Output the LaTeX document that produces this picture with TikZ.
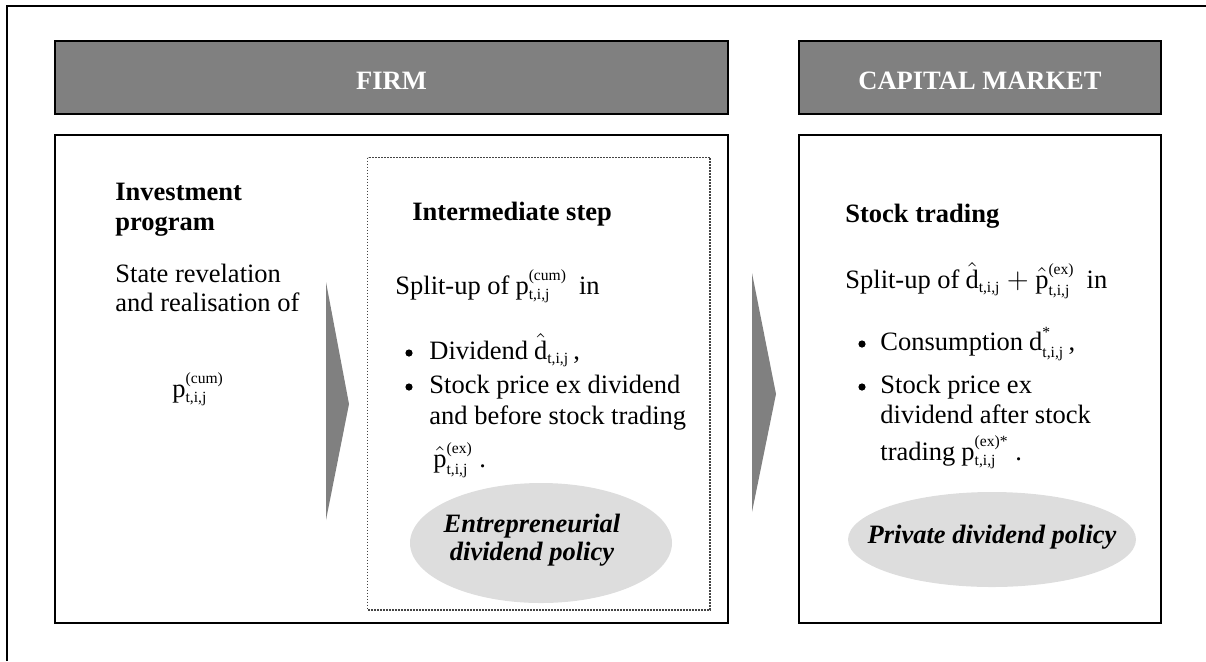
\documentclass[tikz,border=0pt]{standalone}
\usepackage{fontspec}
\usepackage{amsmath}
\setmainfont{Liberation Serif}
\usetikzlibrary{shapes.geometric}
\DeclareMathSizes{13.25}{13.25}{7.8}{6}
\definecolor{hdrgray}{HTML}{808080}
\definecolor{ellgray}{HTML}{DDDDDD}
\definecolor{dotgray}{HTML}{444444}
\newcommand{\tv}[1]{\text{#1}}
\newcommand{\sub}{\tv{t,i,j}}
\begin{document}
\begin{tikzpicture}[x=0.5pt,y=-0.5pt,
  frame/.style={line width=1.3pt, draw=black},
  hdr/.style={frame, fill=hdrgray},
  hdrtxt/.style={anchor=base, inner sep=0pt, text=white, font=\fontsize{13.25}{14.5}\selectfont\bfseries},
  txt/.style={anchor=base west, inner sep=0pt, font=\fontsize{13.25}{14.5}\selectfont},
  bold/.style={txt, font=\fontsize{13.25}{14.5}\selectfont\bfseries},
  elltxt/.style={anchor=base, inner sep=0pt, font=\fontsize{13.25}{14.5}\selectfont\bfseries\itshape},
  ell/.style={ellipse, fill=ellgray, draw=none, inner sep=0pt},
  dot/.style={circle, fill=black, draw=none, inner sep=0pt, minimum size=3.6pt},
  flowarrow/.style={fill=hdrgray, draw=none},
  dotbox/.style={draw=dotgray, line width=0.8pt, dash pattern=on 0.8pt off 0.7pt}
]
\useasboundingbox (0,0) rectangle (1206,661);
% outer frame (only top and left edges visible)
\draw[frame] (7,661) -- (7,6) -- (1206,6);
% headers
\draw[hdr] (55,41) rectangle (728,114);
\draw[hdr] (799,41) rectangle (1161,114);
\node[hdrtxt] (firm) at (391.5,89) {FIRM};
\node[hdrtxt] (cap) at (980,89) {CAPITAL MARKET};
% main boxes
\draw[frame] (55,135) rectangle (728,623);
\draw[frame] (799,135) rectangle (1161,623);
\draw[dotbox] (367.5,157.5) rectangle (710,610);
% flow arrows
\fill[flowarrow] (326,282) -- (349,404) -- (326,520) -- cycle;
\fill[flowarrow] (752,273) -- (776,394) -- (752,512) -- cycle;
% left column
\node[bold] (inv1) at (115,200) {Investment};
\node[bold] (inv2) at (115,230) {program};
\node[txt] (st1) at (115,282) {State revelation};
\node[txt] (st2) at (115,311) {and realisation of};
\node[txt] (pcum) at (172,397) {$\tv{p}^{\tv{(cum)}}_{\sub}$};
% intermediate step
\node[bold] (int) at (412,220) {Intermediate step};
\node[txt] (sp1) at (395,294) {Split-up of\hspace{3pt}$\tv{p}^{\tv{(cum)}}_{\sub}$\hspace{6pt}in};
\node[dot] (b1) at (409,353) {};
\node[txt] (dv) at (429,359) {Dividend\hspace{3pt}$\hat{\tv{d}}_{\sub}$\,,};
\node[dot] (b2) at (409,387) {};
\node[txt] (sp2) at (429,393) {Stock price ex dividend};
\node[txt] (sp3) at (429,424) {and before stock trading};
\node[txt] (sp4) at (433,467) {$\hat{\tv{p}}^{\tv{(ex)}}_{\sub}$\ .};
\node[ell, minimum width=131pt, minimum height=60pt] (e1) at (541,543) {};
\node[elltxt] (e1a) at (532,532) {Entrepreneurial};
\node[elltxt] (e1b) at (532,560) {dividend policy};
% capital market
\node[bold] (stk) at (845,222) {Stock trading};
\node[txt] (cs1) at (845,288) {Split-up of\hspace{3pt}$\hat{\tv{d}}_{\sub}+\hat{\tv{p}}^{\tv{(ex)}}_{\sub}$\hspace{6pt}in};
\node[dot] (b3) at (862,344) {};
\node[txt] (cs2) at (880,350) {Consumption\hspace{3pt}$\tv{d}^{\tv{*}}_{\sub}$\,,};
\node[dot] (b4) at (862,387) {};
\node[txt] (cs3) at (880,393) {Stock price ex};
\node[txt] (cs4) at (880,423) {dividend after stock};
\node[txt] (cs5) at (880,460) {trading\hspace{3pt}$\tv{p}^{\tv{(ex)*}}_{\sub}$\ .};
\node[ell, minimum width=144pt, minimum height=47.5pt] (e2) at (992,539.5) {};
\node[elltxt] (e2a) at (992,543) {Private dividend policy};
\end{tikzpicture}
\end{document}
